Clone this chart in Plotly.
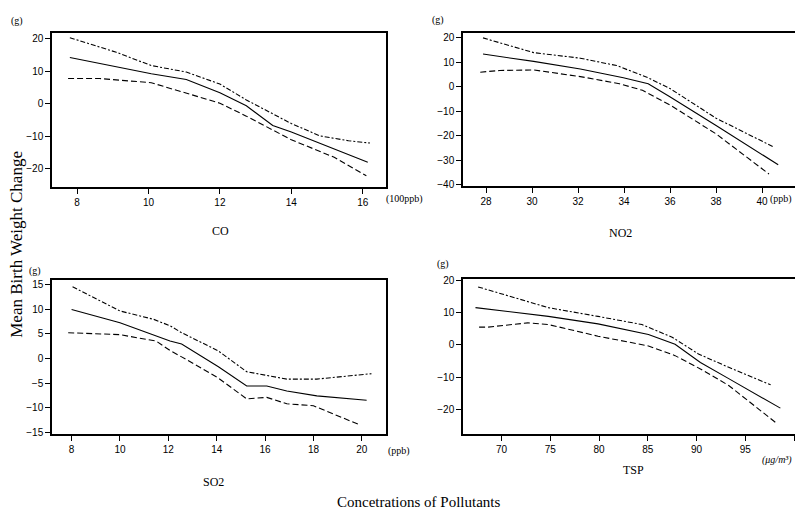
import plotly.graph_objects as go

# ---------------- data ----------------
co_x = [7.8, 9.1, 10.08, 11.06, 12.0, 12.74, 13.48, 14.0, 15.0, 16.14]
co_mid = [14.3, 11.5, 9.3, 7.5, 3.4, -0.6, -6.7, -8.7, -13.0, -18.0]
co_up_x = [7.8, 9.1, 10.08, 11.06, 12.0, 12.74, 14.0, 14.8, 15.6, 16.2]
co_up = [20.4, 15.9, 11.8, 9.8, 6.1, 1.2, -6.1, -9.9, -11.4, -12.1]
co_lo_x = [7.75, 8.63, 10.08, 11.06, 12.0, 12.74, 14.0, 15.2, 16.1]
co_lo = [7.8, 7.8, 6.5, 3.4, 0.2, -3.8, -11.1, -16.5, -22.2]

no2_x = [27.87, 30.07, 32.1, 33.97, 35.05, 35.99, 38.0, 40.7]
no2_mid = [13.3, 10.3, 7.2, 3.6, 1.2, -4.1, -15.9, -31.9]
no2_up_x = [27.87, 30.07, 32.1, 33.68, 35.05, 36.0, 38.0, 40.47]
no2_up = [19.9, 13.9, 11.6, 8.6, 3.6, -0.8, -12.9, -24.5]
no2_lo_x = [27.75, 28.6, 30.07, 32.1, 33.8, 34.8, 36.0, 38.0, 40.3]
no2_lo = [5.9, 6.6, 6.8, 4.1, 1.2, -1.5, -7.5, -19.3, -35.7]

so2_x = [8.0, 10.0, 12.07, 12.55, 14.07, 15.24, 16.07, 16.9, 18.14, 20.2]
so2_mid = [9.9, 7.2, 3.5, 2.9, -1.7, -5.6, -5.6, -6.6, -7.6, -8.5]
so2_up_x = [8.04, 10.0, 11.4, 12.07, 12.55, 14.07, 15.24, 16.07, 16.9, 18.14, 19.66, 20.4]
so2_up = [14.5, 9.6, 7.9, 6.6, 5.2, 1.5, -2.7, -3.4, -4.2, -4.2, -3.4, -3.1]
so2_lo_x = [7.86, 9.17, 10.0, 11.5, 12.07, 12.55, 14.07, 15.24, 16.07, 16.9, 18.0, 19.93]
so2_lo = [5.2, 5.0, 4.8, 3.5, 1.6, 0.3, -4.0, -8.2, -7.9, -9.2, -9.6, -13.5]

tsp_x = [67.33, 74.8, 79.9, 85.07, 87.8, 90.4, 93.3, 98.6]
tsp_mid = [11.5, 8.8, 6.5, 3.2, 0.2, -5.4, -10.4, -19.5]
tsp_up_x = [67.6, 74.8, 79.9, 84.4, 87.5, 90.2, 93.3, 97.6]
tsp_up = [17.9, 11.5, 8.8, 6.3, 2.4, -2.8, -6.9, -12.3]
tsp_lo_x = [67.7, 68.6, 72.7, 74.8, 79.9, 85.07, 87.8, 90.4, 93.3, 98.1]
tsp_lo = [5.5, 5.5, 6.8, 6.3, 2.7, -0.3, -3.3, -7.4, -12.5, -23.9]

co_xticks = [8, 10, 12, 14, 16]
co_yticks = [-20, -10, 0, 10, 20]
no2_xticks = [28, 30, 32, 34, 36, 38, 40]
no2_yticks = [-40, -30, -20, -10, 0, 10, 20]
so2_xticks = [8, 10, 12, 14, 16, 18, 20]
so2_yticks = [-15, -10, -5, 0, 5, 10, 15]
tsp_xticks = [70, 75, 80, 85, 90, 95, 100]
tsp_yticks = [-20, -10, 0, 10, 20]

W, H = 795, 517

fig = go.Figure()

panels = [
    (co_x, co_mid, co_up_x, co_up, co_lo_x, co_lo, ""),
    (no2_x, no2_mid, no2_up_x, no2_up, no2_lo_x, no2_lo, "2"),
    (so2_x, so2_mid, so2_up_x, so2_up, so2_lo_x, so2_lo, "3"),
    (tsp_x, tsp_mid, tsp_up_x, tsp_up, tsp_lo_x, tsp_lo, "4"),
]
for xm, ym, xu, yu, xl, yl, s in panels:
    xa = "x" + s
    ya = "y" + s
    fig.add_trace(go.Scatter(x=xu, y=yu, mode="lines", xaxis=xa, yaxis=ya,
                             line=dict(color="black", width=1.1, dash="5px,2px,2px,2px")))
    fig.add_trace(go.Scatter(x=xl, y=yl, mode="lines", xaxis=xa, yaxis=ya,
                             line=dict(color="black", width=1.1, dash="6px,3px")))
    fig.add_trace(go.Scatter(x=xm, y=ym, mode="lines", xaxis=xa, yaxis=ya,
                             line=dict(color="black", width=1.1)))


def px_dom_x(a, b):
    return [a / W, min(b / W, 1.0)]


def px_dom_y(top, bottom):
    return [1 - bottom / H, 1 - top / H]


tickfont = dict(family="Liberation Sans, Arial, sans-serif", size=10, color="black")


def xax(dom, rng, ticks, anchor):
    return dict(domain=dom, range=rng, tickvals=ticks, ticks="outside", ticklen=5,
                tickwidth=1, tickcolor="black", showline=True, linecolor="black",
                linewidth=1.5, mirror=True, showgrid=False, zeroline=False,
                tickfont=tickfont, anchor=anchor)


def yax(dom, rng, ticks, anchor, mirror=True):
    return dict(domain=dom, range=rng, tickvals=ticks, ticks="outside", ticklen=5,
                tickwidth=1, tickcolor="black", showline=True, linecolor="black",
                linewidth=1.5, mirror=mirror, showgrid=False, zeroline=False,
                tickfont=tickfont, anchor=anchor)


fig.update_layout(
    width=W, height=H,
    margin=dict(l=0, r=0, t=0, b=0),
    paper_bgcolor="white", plot_bgcolor="white",
    showlegend=False,
    xaxis=xax(px_dom_x(52, 386), [7.3, 16.65], co_xticks, "y"),
    yaxis=yax(px_dom_y(28, 185), [-25.6, 22.0], co_yticks, "x"),
    xaxis2=xax(px_dom_x(463, 795), [27.0, 41.43], no2_xticks, "y2"),
    yaxis2=yax(px_dom_y(28, 184), [-40.5, 22.1], no2_yticks, "x2", mirror=False),
    xaxis3=xax(px_dom_x(52, 386), [7.19, 21.0], so2_xticks, "y3"),
    yaxis3=yax(px_dom_y(280, 437), [-15.4, 15.85], so2_yticks, "x3"),
    xaxis4=xax(px_dom_x(463, 795), [66.05, 100.1], tsp_xticks, "y4"),
    yaxis4=yax(px_dom_y(279, 437), [-27.6, 20.3], tsp_yticks, "x4", mirror=False),
)

serif = "Liberation Serif, Times New Roman, serif"


def ann(text, x, y, size=10, family=serif, angle=0, xanchor="center", italic=False):
    if italic:
        text = "<i>" + text + "</i>"
    fig.add_annotation(text=text, x=x / W, y=1 - y / H, xref="paper", yref="paper",
                       showarrow=False, xanchor=xanchor, yanchor="middle",
                       textangle=angle, font=dict(family=family, size=size, color="black"))


# (g) labels
ann("(g)", 17, 16, size=10)
ann("(g)", 438, 15, size=10)
ann("(g)", 35, 271, size=10)
ann("(g)", 443, 264, size=10)

# unit labels
ann("(100ppb)", 384, 197, size=10, xanchor="left")
ann("(ppb)", 794, 197, size=10, xanchor="right")
ann("(ppb)", 386, 454, size=10, xanchor="left")
ann("(μg/m³)", 794, 463, size=10, xanchor="right", italic=True)

# panel titles
ann("CO", 220, 230, size=12)
ann("NO2", 620, 232, size=12)
ann("SO2", 213, 485, size=12)
ann("TSP", 633, 473, size=12)

# overall titles
ann("Mean Birth Weight Change", 17, 244, size=17, angle=-90)
ann("Concetrations of Pollutants", 418, 506, size=15)

fig.write_html("out.html", config={"displayModeBar": False},
               post_script="document.body.style.margin='0';document.body.style.padding='0';")
